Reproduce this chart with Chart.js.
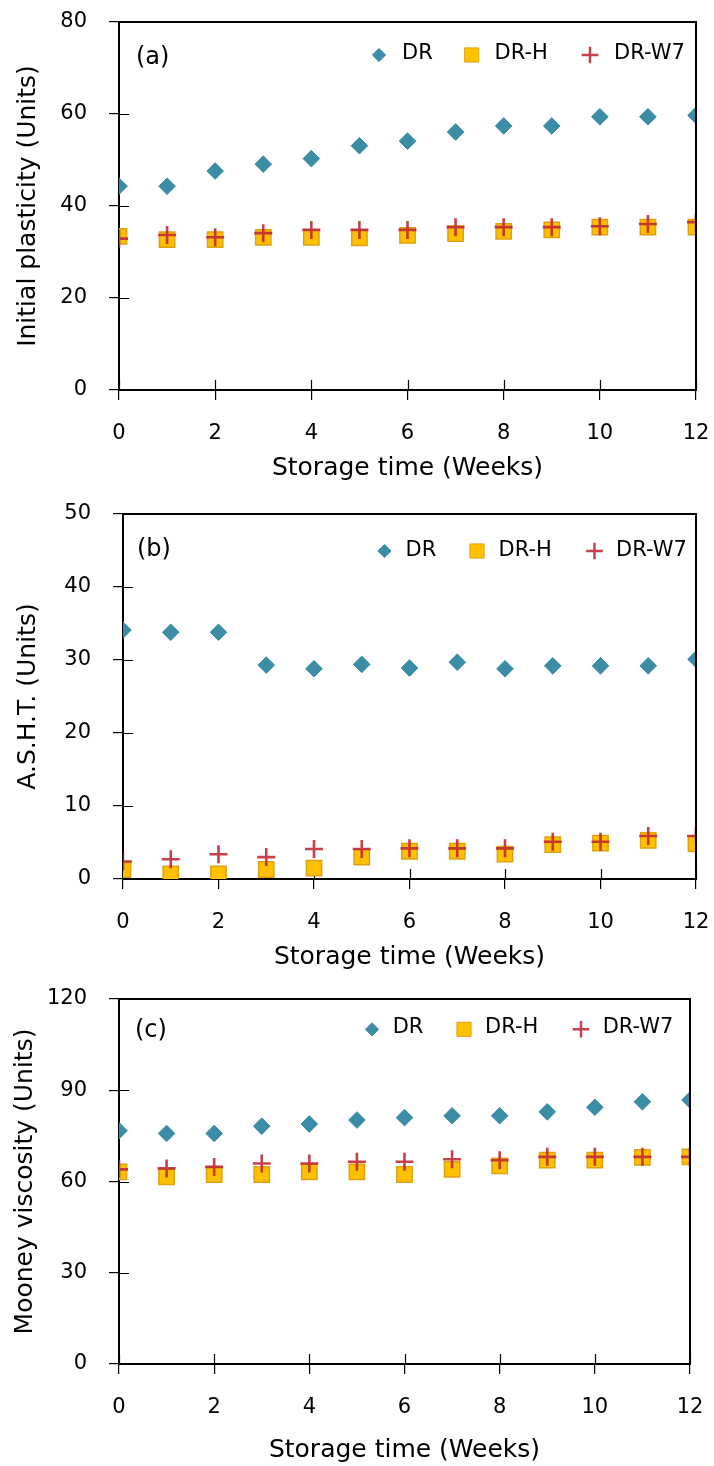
<!DOCTYPE html>
<html><head><meta charset="utf-8">
<script src="https://cdn.jsdelivr.net/npm/chart.js@4/dist/chart.umd.min.js"></script>
<style>
html,body{margin:0;padding:0;background:#fff;}
#wrap{position:relative;width:714px;height:1466px;overflow:hidden;background:#fff;}
canvas{position:absolute;left:0;}
</style></head><body>
<div id="wrap">
<canvas id="ca" width="714" height="490" style="top:0px"></canvas>
<canvas id="cb" width="714" height="490" style="top:490px"></canvas>
<canvas id="cc" width="714" height="486" style="top:980px"></canvas>
</div>
<script>
// ---- data ----
const weeks = [0,1,2,3,4,5,6,7,8,9,10,11,12];
const xTicks = [0,2,4,6,8,10,12];
const seriesNames = ['DR','DR-H','DR-W7'];
const xTitle = 'Storage time (Weeks)';

const plasticityDR   = [44.3,44.3,47.6,49.1,50.3,53.1,54.1,56.1,57.4,57.4,59.4,59.4,59.7];
const plasticityDRH  = [33.4,32.7,32.7,33.2,33.2,33.1,33.6,34.0,34.5,34.8,35.4,35.4,35.4];
const plasticityDRW7 = [32.9,33.7,33.2,34.1,34.8,34.8,34.8,35.4,35.4,35.4,35.6,36.1,36.5];
const plasticityTicks = [0,20,40,60,80];

const ashtDR   = [34.1,33.8,33.8,29.3,28.8,29.4,28.9,29.7,28.8,29.2,29.2,29.2,30.1];
const ashtDRH  = [1.3,0.7,0.7,1.3,1.5,3.0,3.8,3.8,3.4,4.7,4.9,5.3,4.8];
const ashtDRW7 = [2.4,2.7,3.4,3.0,4.1,4.1,4.2,4.2,4.2,5.1,5.1,5.9,5.9];
const ashtTicks = [0,10,20,30,40,50];

const mooneyDR   = [76.7,75.8,75.8,78.2,78.9,80.2,81.0,81.6,81.6,82.9,84.4,86.2,86.8];
const mooneyDRH  = [63.2,61.5,62.3,62.3,63.2,63.2,62.3,64.0,65.1,67.0,67.0,67.9,68.1];
const mooneyDRW7 = [64.0,64.3,64.8,65.9,65.9,66.5,66.5,67.3,67.0,68.1,68.1,68.1,68.1];
const mooneyTicks = [0,30,60,90,120];

// ---- styling ----
const FONT = "'DejaVu Sans', Verdana, sans-serif";
const TXT = '#000';
const TEAL = '#3A8DA4';
const ORANGE = '#FFC000';
const ORANGE_EDGE = '#E0A010';
const RED = 'rgba(190,38,50,0.88)';

function drawMarker(ctx, style, x, y) {
  ctx.save();
  ctx.fillStyle = style.fill || 'transparent';
  ctx.strokeStyle = style.stroke;
  ctx.lineWidth = style.lw;
  ctx.beginPath();
  const r = style.r;
  if (style.shape === 'rectRot') {
    ctx.moveTo(x, y - r); ctx.lineTo(x + r, y); ctx.lineTo(x, y + r); ctx.lineTo(x - r, y); ctx.closePath();
    ctx.fill(); ctx.stroke();
  } else if (style.shape === 'rect') {
    const s = r * Math.SQRT1_2;
    ctx.rect(x - s, y - s, 2 * s, 2 * s);
    ctx.fill(); ctx.stroke();
  } else {
    ctx.moveTo(x - r, y); ctx.lineTo(x + r, y); ctx.moveTo(x, y - r); ctx.lineTo(x, y + r);
    ctx.stroke();
  }
  ctx.restore();
}

const framePlugin = {
  id: 'frame',
  beforeDatasetsDraw(chart) {
    const {ctx, chartArea: a, scales: {x, y}} = chart;
    ctx.save();
    ctx.strokeStyle = '#000';
    ctx.lineWidth = 1.2;
    ctx.beginPath();
    x.ticks.forEach(t => {
      const px = Math.round(x.getPixelForValue(t.value)) + 0.5;
      ctx.moveTo(px, a.bottom); ctx.lineTo(px, a.bottom - 10);
    });
    y.ticks.forEach(t => {
      const py = Math.round(y.getPixelForValue(t.value)) + 0.5;
      ctx.moveTo(a.left, py); ctx.lineTo(a.left + 10, py);
    });
    ctx.stroke();
    ctx.restore();
  },
  afterDraw(chart, args, opts) {
    const {ctx, chartArea: a} = chart;
    ctx.save();
    ctx.strokeStyle = '#000';
    ctx.lineWidth = 2;
    ctx.beginPath();
    ctx.moveTo(a.left - 1, a.top); ctx.lineTo(a.right, a.top); ctx.lineTo(a.right, a.bottom + 1);
    ctx.stroke();
    // panel letter
    ctx.fillStyle = TXT;
    ctx.textBaseline = 'alphabetic';
    ctx.textAlign = 'left';
    ctx.font = "24px " + FONT;
    ctx.fillText(opts.letter, opts.letterX, opts.letterY);
    // legend
    ctx.font = "21px " + FONT;
    chart.data.datasets.forEach((ds, i) => {
      drawMarker(ctx, ds.legendStyle, opts.markerX[i], opts.markerY);
      ctx.fillStyle = TXT;
      ctx.fillText(ds.label, opts.textX[i], opts.textY);
    });
    ctx.restore();
  }
};

function zeroPad(s) { s.paddingTop = 0; s.paddingBottom = 0; s.paddingLeft = 0; s.paddingRight = 0; }

function makeChart(id, cfg) {
  const mk = arr => weeks.map((w, i) => ({x: w, y: arr[i]}));
  const datasets = [
    {label: seriesNames[0], data: mk(cfg.s[0]), pointStyle: 'rectRot', pointRadius: 8.3, pointHoverRadius: 0,
     backgroundColor: TEAL, borderColor: TEAL, borderWidth: 1, order: 3,
     legendStyle: {shape: 'rectRot', r: 6.6, fill: TEAL, stroke: TEAL, lw: 1}},
    {label: seriesNames[1], data: mk(cfg.s[1]), pointStyle: 'rect', pointRadius: 10.8, pointHoverRadius: 0,
     backgroundColor: ORANGE, borderColor: ORANGE_EDGE, borderWidth: 1.5, order: 2,
     legendStyle: {shape: 'rect', r: 10, fill: ORANGE, stroke: ORANGE_EDGE, lw: 1}},
    {label: seriesNames[2], data: mk(cfg.s[2]), pointStyle: 'cross', pointRadius: 9, pointHoverRadius: 0,
     backgroundColor: RED, borderColor: RED, borderWidth: 2.6, order: 1,
     legendStyle: {shape: 'cross', r: 8.3, stroke: RED, lw: 2.4}}
  ];
  const yT = cfg.yTicks;
  return new Chart(document.getElementById(id), {
    type: 'scatter',
    data: {datasets},
    options: {
      responsive: false, animation: false, events: [],
      layout: {autoPadding: false, padding: {top: cfg.top, right: cfg.right, left: 0, bottom: 0}},
      plugins: {legend: {display: false}, tooltip: {enabled: false}, frame: cfg.frame},
      scales: {
        x: {
          type: 'linear', min: xTicks[0], max: xTicks[xTicks.length - 1],
          afterBuildTicks: s => { s.ticks = xTicks.map(v => ({value: v})); },
          ticks: {padding: 20.5, color: TXT, font: {family: FONT, size: 21}, maxRotation: 0, autoSkip: false},
          grid: {display: true, drawOnChartArea: false, drawTicks: true, tickLength: 10, color: '#000', lineWidth: 1.2},
          border: {display: true, color: '#000', width: 2},
          title: {display: true, text: xTitle, color: TXT, font: {family: FONT, size: 25}, padding: {top: 0, bottom: cfg.xTitlePad}},
          afterFit: s => { s.height = cfg.xH; zeroPad(s); }
        },
        y: {
          type: 'linear', min: yT[0], max: yT[yT.length - 1],
          afterBuildTicks: s => { s.ticks = yT.map(v => ({value: v})); },
          ticks: {padding: 22, color: TXT, font: {family: FONT, size: 21}, autoSkip: false},
          grid: {display: true, drawOnChartArea: false, drawTicks: true, tickLength: 10, color: '#000', lineWidth: 1.2},
          border: {display: true, color: '#000', width: 2},
          title: {display: true, text: cfg.yTitle, color: TXT, font: {family: FONT, size: 25}, padding: {top: cfg.yTitlePad, bottom: 0}},
          afterFit: s => { s.width = cfg.yW; zeroPad(s); }
        }
      }
    },
    plugins: [framePlugin]
  });
}

makeChart('ca', {
  s: [plasticityDR, plasticityDRH, plasticityDRW7], yTicks: plasticityTicks,
  yTitle: 'Initial plasticity (Units)',
  top: 22, right: 18, xH: 100, yW: 119, xTitlePad: 7, yTitlePad: 13,
  frame: {letter: '(a)', letterX: 136, letterY: 64,
          markerX: [379, 471.7, 590], markerY: 55, textX: [402, 494.5, 614], textY: 59}
});
makeChart('cb', {
  s: [ashtDR, ashtDRH, ashtDRW7], yTicks: ashtTicks,
  yTitle: 'A.S.H.T. (Units)',
  top: 24, right: 18, xH: 101, yW: 123, xTitlePad: 8, yTitlePad: 13,
  frame: {letter: '(b)', letterX: 137, letterY: 66,
          markerX: [384.5, 477, 594.5], markerY: 61, textX: [405.5, 498.6, 616], textY: 65.7}
});
makeChart('cc', {
  s: [mooneyDR, mooneyDRH, mooneyDRW7], yTicks: mooneyTicks,
  yTitle: 'Mooney viscosity (Units)',
  top: 19, right: 24, xH: 102, yW: 119, xTitlePad: 1, yTitlePad: 10,
  frame: {letter: '(c)', letterX: 135, letterY: 56.7,
          markerX: [372, 464, 581], markerY: 49.3, textX: [392.7, 485, 602.7], textY: 53.3}
});
</script>
</body></html>
